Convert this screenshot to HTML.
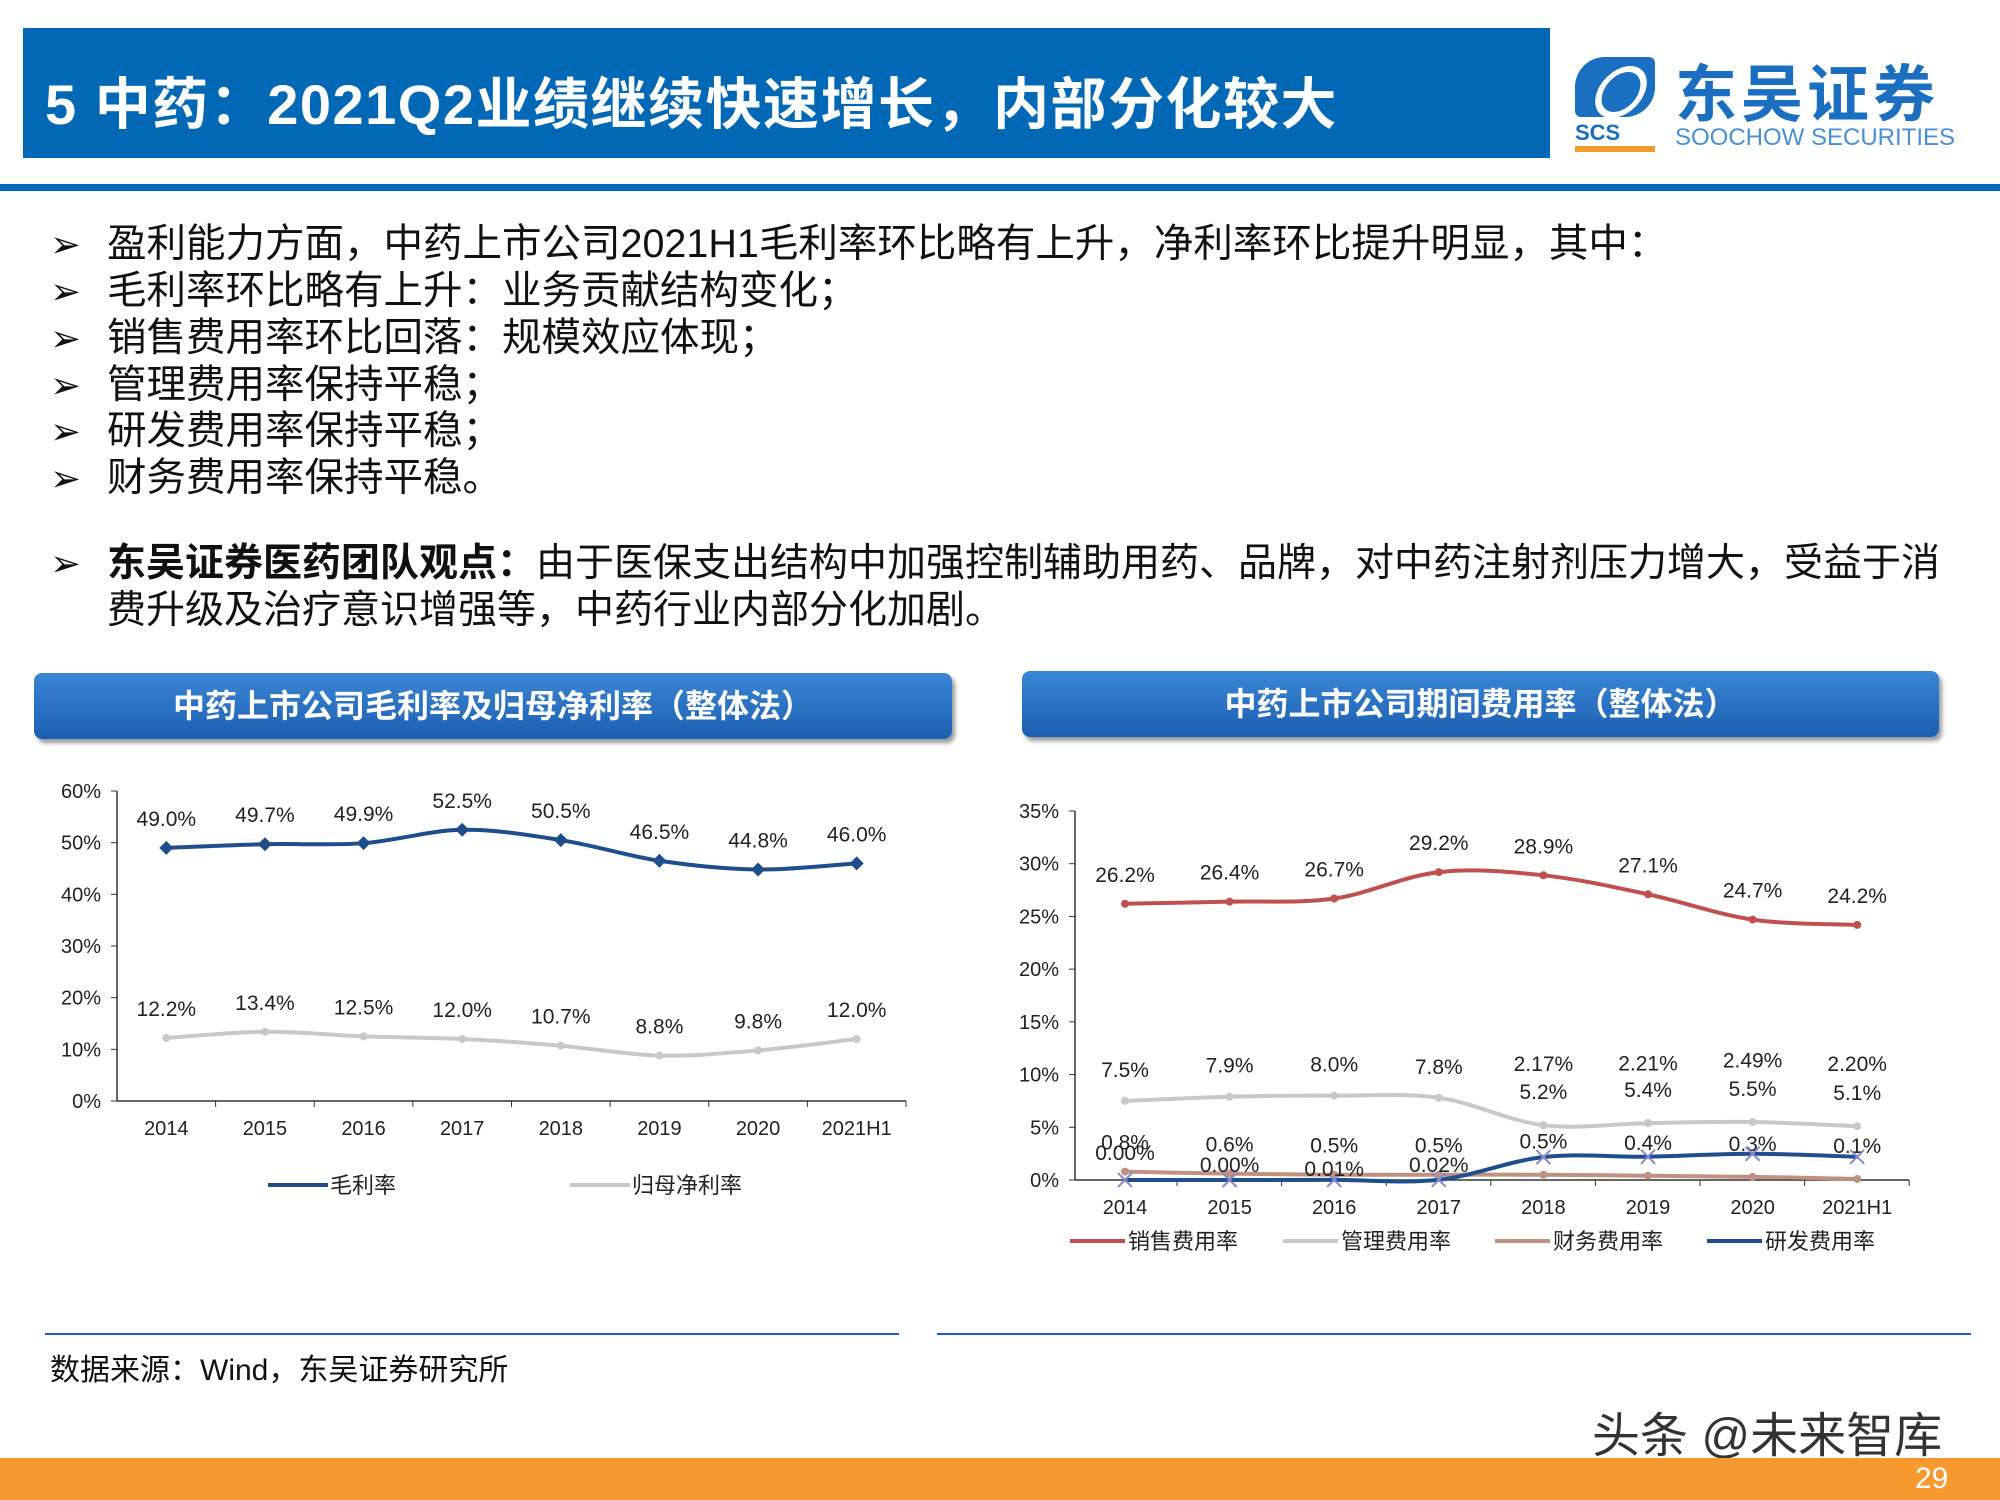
<!DOCTYPE html>
<html><head><meta charset="utf-8">
<style>
body{margin:0;width:2000px;height:1500px;position:relative;overflow:hidden;background:#fff;font-family:"Liberation Sans","Noto Sans CJK SC",sans-serif}
.abs{position:absolute}
.b{position:absolute;left:50px;font-size:39.5px;color:#111;white-space:nowrap}
.b span{display:inline-block;width:57px;font-size:37px}
</style></head><body>
<div class="abs" style="left:23px;top:28px;width:1527px;height:130px;background:#0068b5"></div>
<div class="abs" style="left:45px;top:60px;font-size:56px;font-weight:bold;color:#fff;white-space:nowrap;letter-spacing:1.5px">5 中药：2021Q2业绩继续快速增长，内部分化较大</div>
<div class="abs" style="left:1575px;top:52px;width:400px;height:100px">
 <div class="abs" style="left:0;top:5px;width:80px;height:60px;background:#1a6fc0;border-radius:30px 6px 30px 6px"></div>
 <div class="abs" style="left:22px;top:14px;width:36px;height:40px;border:6px solid #fff;border-radius:50%;transform:skewX(-20deg)"></div>
 <div class="abs" style="left:0;top:68px;font-size:22px;font-weight:bold;color:#1a6fc0">SCS</div>
 <div class="abs" style="left:0;top:94px;width:80px;height:6px;background:#f39a2b"></div>
 <div class="abs" style="left:100px;top:-8px;font-size:62px;font-weight:bold;color:#1a6fc0;letter-spacing:4px;white-space:nowrap">东吴证券</div>
 <div class="abs" style="left:100px;top:72px;font-size:24px;color:#4a90d0;white-space:nowrap">SOOCHOW SECURITIES</div>
</div>
<div class="abs" style="left:0;top:184px;width:2000px;height:7px;background:#0068b5"></div>

<div class="b" style="top:212px"><span>➢</span>盈利能力方面，中药上市公司2021H1毛利率环比略有上升，净利率环比提升明显，其中：</div>
<div class="b" style="top:259px"><span>➢</span>毛利率环比略有上升：业务贡献结构变化；</div>
<div class="b" style="top:306px"><span>➢</span>销售费用率环比回落：规模效应体现；</div>
<div class="b" style="top:353px"><span>➢</span>管理费用率保持平稳；</div>
<div class="b" style="top:399px"><span>➢</span>研发费用率保持平稳；</div>
<div class="b" style="top:446px"><span>➢</span>财务费用率保持平稳。</div>
<div class="b" style="top:540px;line-height:47px;font-size:39px"><span>➢</span><b>东吴证券医药团队观点：</b>由于医保支出结构中加强控制辅助用药、品牌，对中药注射剂压力增大，受益于消<br><span></span>费升级及治疗意识增强等，中药行业内部分化加剧。</div>

<div class="abs" style="left:34px;top:673px;width:918px;height:66px;background:linear-gradient(#3a86d4,#1c5fb0);border-radius:8px;box-shadow:3px 4px 4px #999;color:#fff;font-size:32px;font-weight:bold;text-align:center;line-height:66px">中药上市公司毛利率及归母净利率（整体法）</div>
<div class="abs" style="left:1022px;top:671px;width:917px;height:66px;background:linear-gradient(#3a86d4,#1c5fb0);border-radius:8px;box-shadow:3px 4px 4px #999;color:#fff;font-size:32px;font-weight:bold;text-align:center;line-height:66px">中药上市公司期间费用率（整体法）</div>

<svg class="abs" id="svg" style="left:0;top:0" width="2000" height="1500"></svg>

<div class="abs" style="left:45px;top:1333px;width:854px;height:2px;background:#1c5fb0"></div>
<div class="abs" style="left:937px;top:1333px;width:1034px;height:2px;background:#1c5fb0"></div>
<div class="abs" style="left:50px;top:1345px;font-size:30px;color:#111">数据来源：Wind，东吴证券研究所</div>
<div class="abs" style="left:1592px;top:1396px;font-size:48px;color:#333;white-space:nowrap">头条 @未来智库</div>
<div class="abs" style="left:0;top:1458px;width:2000px;height:42px;background:#f7992f"></div>
<div class="abs" style="left:1915px;top:1462px;font-size:30px;color:#fff">29</div>

<script>
const cats=["2014","2015","2016","2017","2018","2019","2020","2021H1"];
const gross=[49.0,49.7,49.9,52.5,50.5,46.5,44.8,46.0];
const net=[12.2,13.4,12.5,12.0,10.7,8.8,9.8,12.0];
const leftTicks=[0,10,20,30,40,50,60];
const sales=[26.2,26.4,26.7,29.2,28.9,27.1,24.7,24.2];
const mgmt=[7.5,7.9,8.0,7.8,5.2,5.4,5.5,5.1];
const fin=[0.8,0.6,0.5,0.5,0.5,0.4,0.3,0.1];
const rnd=[0.00,0.00,0.01,0.02,2.17,2.21,2.49,2.20];
const rndLabels=["0.00%","0.00%","0.01%","0.02%","2.17%","2.21%","2.49%","2.20%"];
const rightTicks=[0,5,10,15,20,25,30,35];

const svg=document.getElementById('svg');const NS='http://www.w3.org/2000/svg';
function mk(t,a,txt){const e=document.createElementNS(NS,t);for(const k in a)e.setAttribute(k,a[k]);if(txt!==undefined)e.textContent=txt;svg.appendChild(e);return e;}
function smooth(pts){let d='M'+pts[0][0]+','+pts[0][1];for(let i=0;i<pts.length-1;i++){const p0=pts[i-1]||pts[i],p1=pts[i],p2=pts[i+1],p3=pts[i+2]||p2;const c1=[p1[0]+(p2[0]-p0[0])/6,p1[1]+(p2[1]-p0[1])/6],c2=[p2[0]-(p3[0]-p1[0])/6,p2[1]-(p3[1]-p1[1])/6];d+=' C'+c1+' '+c2+' '+p2;}return d;}
function fmt(v){return v.toFixed(1)+'%';}

// left chart
const L={x0:117,x1:906,y0:1101,y1:791,max:60};
const lx=i=>L.x0+(L.x1-L.x0)/8*(i+0.5), ly=v=>L.y0-(L.y0-L.y1)*v/L.max;
let e=mk('line',{x1:L.x0,y1:L.y1,x2:L.x0,y2:L.y0,stroke:'#333','stroke-width':1.5});
e=mk('line',{x1:L.x0,y1:L.y0,x2:L.x1,y2:L.y0,stroke:'#333','stroke-width':1.5});
leftTicks.forEach(t=>{mk('line',{x1:L.x0-6,y1:ly(t),x2:L.x0,y2:ly(t),stroke:'#333'});e=mk('text',{x:L.x0-16,y:ly(t)+7,'text-anchor':'end','font-size':20,fill:'#222'},t+'%');});
cats.forEach((c,i)=>{mk('line',{x1:L.x0+(L.x1-L.x0)/8*(i+1),y1:L.y0,x2:L.x0+(L.x1-L.x0)/8*(i+1),y2:L.y0+6,stroke:'#333'});e=mk('text',{x:lx(i),y:L.y0+34,'text-anchor':'middle','font-size':20,fill:'#222'},c);});
function series(vals,xf,yf,color,name,marker,labels,dy){
 e=mk('path',{d:smooth(vals.map((v,i)=>[xf(i),yf(v)])),fill:'none',stroke:color,'stroke-width':4});
 vals.forEach((v,i)=>{const x=xf(i),y=yf(v);
  if(marker==='d'){e=mk('path',{d:`M${x},${y-7}L${x+7},${y}L${x},${y+7}L${x-7},${y}Z`,fill:color});}
  else if(marker==='x'){e=mk('path',{d:`M${x-7},${y-7}L${x+7},${y+7}M${x+7},${y-7}L${x-7},${y+7}`,stroke:'#8888cc','stroke-width':2,fill:'none'});}
  else {e=mk('circle',{cx:x,cy:y,r:4,fill:color});}
  
  if(labels){const d=typeof dy==='function'?dy(i):dy;e=mk('text',{x:x,y:y+d,'text-anchor':'middle','font-size':21,fill:'#222'},labels[i]);}
 });
}
series(gross,lx,ly,'#1f4e8c','gross-margin','d',gross.map(fmt),-22);
series(net,lx,ly,'#c8c8c8','net-margin','c',net.map(fmt),-22);
e=mk('line',{x1:268,y1:1185,x2:328,y2:1185,stroke:'#1f4e8c','stroke-width':4});
e=mk('text',{x:330,y:1193,'font-size':22,fill:'#222'},'毛利率');
e=mk('line',{x1:570,y1:1185,x2:630,y2:1185,stroke:'#c8c8c8','stroke-width':4});
e=mk('text',{x:632,y:1193,'font-size':22,fill:'#222'},'归母净利率');

// right chart
const R={x0:1075,x1:1909,y0:1180,y1:811,max:35};
const rx=i=>1125+104.6*i, ry=v=>R.y0-(R.y0-R.y1)*v/R.max;
e=mk('line',{x1:R.x0,y1:R.y1,x2:R.x0,y2:R.y0,stroke:'#333','stroke-width':1.5});
e=mk('line',{x1:R.x0,y1:R.y0,x2:R.x1,y2:R.y0,stroke:'#333','stroke-width':1.5});
rightTicks.forEach(t=>{mk('line',{x1:R.x0-6,y1:ry(t),x2:R.x0,y2:ry(t),stroke:'#333'});e=mk('text',{x:R.x0-16,y:ry(t)+7,'text-anchor':'end','font-size':20,fill:'#222'},t+'%');});
cats.forEach((c,i)=>{mk('line',{x1:rx(i)+52,y1:R.y0,x2:rx(i)+52,y2:R.y0+6,stroke:'#333'});e=mk('text',{x:rx(i),y:R.y0+34,'text-anchor':'middle','font-size':20,fill:'#222'},c);});
series(sales,rx,ry,'#c0504d','sales-expense','c',sales.map(fmt),-22);
series(mgmt,rx,ry,'#c8c8c8','admin-expense','c',mgmt.map(fmt),i=>i<4?-24:-26);
series(fin,rx,ry,'#c09080','finance-expense','c',fin.map(fmt),i=>i<4?-22:-26);
series(rnd,rx,ry,'#1f4e8c','rnd-expense','x',rndLabels,i=>i<4?[-20,-8,-4,-8][i]:-86);
const leg=[['销售费用率','#c0504d',1070],['管理费用率','#c8c8c8',1283],['财务费用率','#c09080',1495],['研发费用率','#1f4e8c',1707]];
leg.forEach(l=>{e=mk('line',{x1:l[2],y1:1241,x2:l[2]+55,y2:1241,stroke:l[1],'stroke-width':4});
 e=mk('text',{x:l[2]+58,y:1249,'font-size':22,fill:'#222'},l[0]);});
</script>
</body></html>
